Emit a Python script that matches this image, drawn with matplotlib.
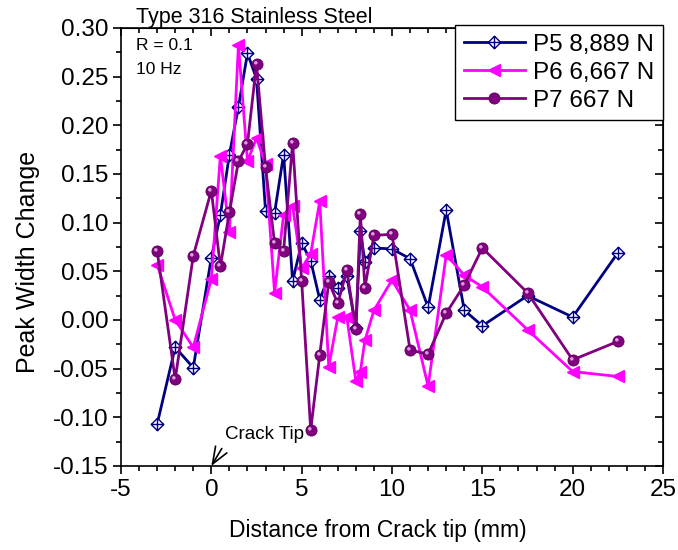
import numpy as np
import matplotlib
matplotlib.use("Agg")
import matplotlib.pyplot as plt
from matplotlib.path import Path
from matplotlib.ticker import MultipleLocator, FormatStrFormatter

plt.rcParams['font.family'] = ['Liberation Sans', 'DejaVu Sans']
plt.rcParams['axes.unicode_minus'] = False

# Distance from crack tip (mm)
x_p5 = [-3, -2, -1, 0, 0.5, 1, 1.5, 2, 2.5, 3, 3.5, 4, 4.5, 5, 5.5, 6, 6.5, 7, 7.5,
        8, 8.25, 8.5, 9, 10, 11, 12, 13, 14, 15, 17.5, 20, 22.5]
y_p5 = [-0.107, -0.028, -0.049, 0.064, 0.108, 0.170, 0.219, 0.274, 0.248, 0.112, 0.110,
        0.170, 0.040, 0.079, 0.061, 0.021, 0.045, 0.033, 0.045, -0.008, 0.091, 0.060,
        0.074, 0.073, 0.063, 0.013, 0.113, 0.010, -0.006, 0.025, 0.003, 0.069]

x_p6 = [-3, -2, -1, 0, 0.5, 1, 1.5, 2, 2.5, 3, 3.5, 4, 4.5, 5, 5.5, 6, 6.5, 7, 7.5,
        8, 8.25, 8.5, 9, 10, 11, 12, 13, 14, 15, 17.5, 20, 22.5]
y_p6 = [0.057, 0.000, -0.028, 0.042, 0.169, 0.090, 0.283, 0.163, 0.187, 0.160, 0.028,
        0.108, 0.117, 0.053, 0.068, 0.122, -0.048, 0.003, 0.003, -0.063, -0.053, -0.021,
        0.010, 0.041, 0.010, -0.068, 0.067, 0.046, 0.034, -0.010, -0.053, -0.058]

x_p7 = [-3, -2, -1, 0, 0.5, 1, 1.5, 2, 2.5, 3, 3.5, 4, 4.5, 5, 5.5, 6, 6.5, 7, 7.5,
        8, 8.25, 8.5, 9, 10, 11, 12, 13, 14, 15, 17.5, 20, 22.5]
y_p7 = [0.071, -0.061, 0.066, 0.133, 0.055, 0.111, 0.163, 0.181, 0.263, 0.157, 0.079,
        0.071, 0.182, 0.040, -0.113, -0.036, 0.039, 0.017, 0.051, -0.009, 0.109, 0.033,
        0.087, 0.088, -0.031, -0.035, 0.007, 0.036, 0.074, 0.028, -0.041, -0.022]

labels = ["P5 8,889 N", "P6 6,667 N", "P7 667 N"]
colors = ["#000080", "#FF00FF", "#800080"]

# Diamond with an inscribed cross
M, L, C = Path.MOVETO, Path.LINETO, Path.CLOSEPOLY
diamond_cross = Path(
    [(0, 1), (1, 0), (0, -1), (-1, 0), (0, 1),
     (-1, 0), (1, 0), (0, 1), (0, -1)],
    [M, L, L, L, C, M, L, M, L])

# Small highlight spot on the upper-left of a sphere marker
highlight = Path.make_compound_path(
    Path([(-1, -1), (1, 1)], [M, M]),
    Path.circle((-0.3, 0.3), 0.32))

fig = plt.figure(figsize=(6.78, 5.5), dpi=100)
ax = fig.add_axes([121 / 678, 1 - 466 / 550, (663 - 121) / 678, (466 - 28) / 550])

lw = 2.0
h5, = ax.plot(x_p5, y_p5, color=colors[0], lw=lw, marker=diamond_cross, ms=9,
              mfc="white", mec=colors[0], mew=1.0, label=labels[0], zorder=3)
h6, = ax.plot(x_p6, y_p6, color=colors[1], lw=lw, marker="<", ms=9,
              mfc=colors[1], mec=colors[1], label=labels[1], zorder=4)
h7, = ax.plot(x_p7, y_p7, color=colors[2], lw=lw, marker="o", ms=8,
              mfc=colors[2], mec="#5a005a", mew=0.6, label=labels[2], zorder=5)
ax.plot(x_p7, y_p7, ls="none", marker=highlight, ms=8, mfc="#d8a0d8",
        mec="none", zorder=6)

ax.set_xlim(-5, 25)
ax.set_ylim(-0.15, 0.30)
ax.xaxis.set_major_locator(MultipleLocator(5))
ax.xaxis.set_minor_locator(MultipleLocator(1))
ax.yaxis.set_major_locator(MultipleLocator(0.05))
ax.yaxis.set_minor_locator(MultipleLocator(0.025))
ax.yaxis.set_major_formatter(FormatStrFormatter("%.2f"))

ax.tick_params(axis="both", which="both", direction="out", labelsize=17.5,
               width=1.2, colors="black")
ax.tick_params(axis="both", which="major", length=6, pad=3)
ax.tick_params(axis="both", which="minor", length=3.5)
for side in ax.spines.values():
    side.set_linewidth(1.2)

# Inward ticks on the top and right edges
top = ax.secondary_xaxis("top")
top.set_xticks(np.arange(-5, 26, 5))
top.xaxis.set_minor_locator(MultipleLocator(1))
top.tick_params(axis="x", which="both", direction="in", labeltop=False, width=1.2)
top.tick_params(axis="x", which="major", length=6)
top.tick_params(axis="x", which="minor", length=3.5)
right = ax.secondary_yaxis("right")
right.set_yticks(np.arange(-0.15, 0.301, 0.05))
right.yaxis.set_minor_locator(MultipleLocator(0.025))
right.tick_params(axis="y", which="both", direction="in", labelright=False, width=1.2)
right.tick_params(axis="y", which="major", length=6)
right.tick_params(axis="y", which="minor", length=3.5)

ax.set_xlabel("Distance from Crack tip (mm)", fontsize=16.5)
ax.xaxis.set_label_coords(0.474, -0.12)
ax.set_ylabel("Peak Width Change", fontsize=18)
ax.yaxis.set_label_coords(-0.15, 0.465)

fig.text(136 / 678, 1 - 17 / 550, "Type 316 Stainless Steel", fontsize=15.5,
         va="center", ha="left")
fig.text(136 / 678, 1 - 45 / 550, "R = 0.1", fontsize=12.5, va="center", ha="left")
fig.text(136 / 678, 1 - 70 / 550, "10 Hz", fontsize=12.5, va="center", ha="left")

ax.annotate("Crack Tip", xy=(0, -0.15), xytext=(0.75, -0.118), fontsize=13.5,
            va="center", ha="left",
            arrowprops=dict(arrowstyle="->,head_length=0.9,head_width=0.35",
                            color="black", lw=1.2, shrinkA=2, shrinkB=0,
                            relpos=(0.0, 0.0)),
            annotation_clip=False, zorder=7)

leg = ax.legend(handles=[h5, h6, h7], loc="upper right",
                bbox_to_anchor=(663 / 678, 1 - 25 / 550),
                bbox_transform=fig.transFigure, borderaxespad=0,
                fontsize=17.5, handlelength=2.5, handletextpad=0.35,
                labelspacing=0.25, borderpad=0.35, fancybox=False,
                framealpha=1, edgecolor="black")
leg.get_frame().set_linewidth(1.0)
leg.set_zorder(10)

fig.savefig("out.png", dpi=100)
